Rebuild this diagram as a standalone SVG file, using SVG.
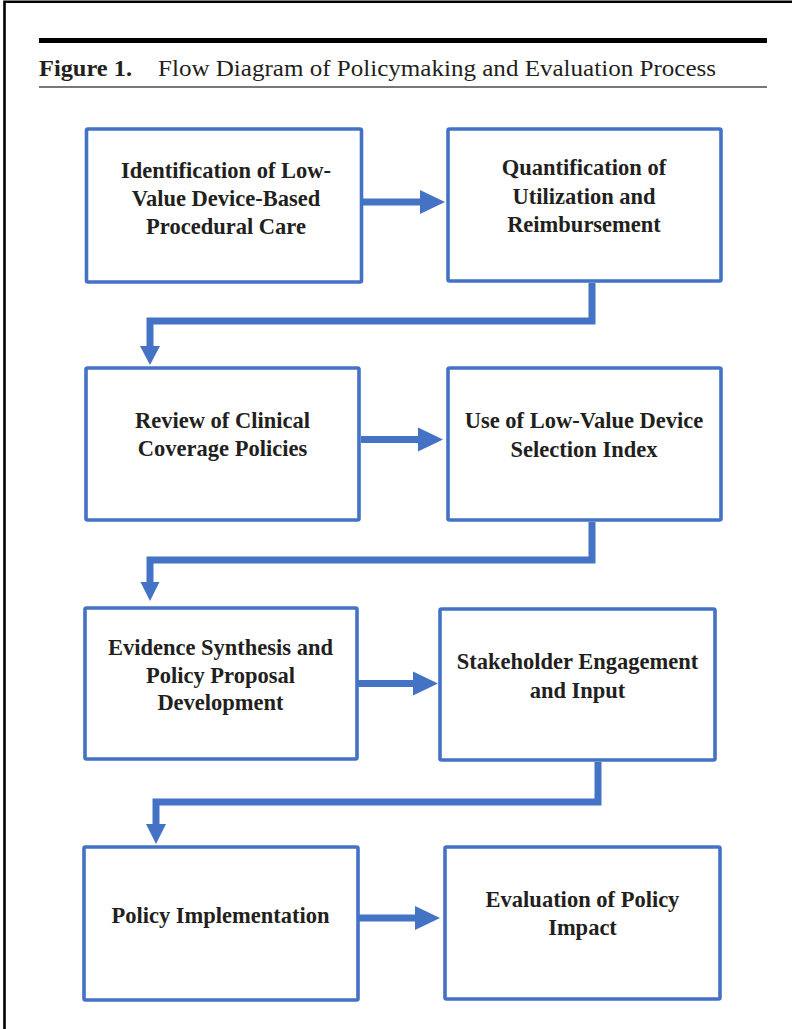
<svg xmlns="http://www.w3.org/2000/svg" width="792" height="1029" viewBox="0 0 792 1029">
<style>
.box{fill:#ffffff;stroke:#4472C4;stroke-width:3.6}
.lbl{font-family:"Liberation Serif","Times New Roman",serif;font-weight:bold;font-size:22.5px;fill:#231f20;text-anchor:middle}
.conn{fill:none;stroke:#4472C4;stroke-width:7;stroke-linejoin:miter}
.head{fill:#4472C4;stroke:none}
.ttl{font-family:"Liberation Serif","Times New Roman",serif;font-size:24px;fill:#231f20}
</style>
<rect x="0" y="0" width="792" height="1029" fill="#ffffff"/>
<path d="M4.5,1029 V1.8 H792" fill="none" stroke="#000000" stroke-width="2.6"/>
<rect x="39" y="38" width="728" height="5" fill="#000000"/>
<rect x="39" y="86.4" width="728" height="1.2" fill="#231f20"/>
<text class="ttl" x="39" y="75.5" font-weight="bold" textLength="93" lengthAdjust="spacingAndGlyphs">Figure 1.</text>
<text class="ttl" x="158" y="75.5" textLength="558" lengthAdjust="spacingAndGlyphs">Flow Diagram of Policymaking and Evaluation Process</text>

<g id="connectors">
<path class="conn" d="M362,202 H421"/>
<polygon class="head" points="420,190 420,214 445,202"/>
<path class="conn" d="M592,283 V321 H150 V347"/>
<polygon class="head" points="140,346 160,346 150,365"/>
<path class="conn" d="M361,439.5 H419"/>
<polygon class="head" points="418,427.5 418,451.5 443,439.5"/>
<path class="conn" d="M592,522 V560 H150 V583"/>
<polygon class="head" points="140.5,582 159.5,582 150,601"/>
<path class="conn" d="M358,683.5 H414"/>
<polygon class="head" points="413,671.5 413,695.5 438,683.5"/>
<path class="conn" d="M598,762 V802 H156 V825"/>
<polygon class="head" points="146,824 166,824 156,844"/>
<path class="conn" d="M359,918 H416"/>
<polygon class="head" points="415,906 415,930 440,918"/>
</g>

<g id="node1">
<rect class="box" x="86.5" y="129" width="275" height="153" rx="1.5"/>
<text class="lbl" x="226" y="178">Identification of Low-</text>
<text class="lbl" x="226" y="206">Value Device-Based</text>
<text class="lbl" x="226" y="234">Procedural Care</text>
</g>
<g id="node2">
<rect class="box" x="448" y="129" width="273" height="152" rx="1.5"/>
<text class="lbl" x="584" y="175">Quantification of</text>
<text class="lbl" x="584" y="203.5">Utilization and</text>
<text class="lbl" x="584" y="232">Reimbursement</text>
</g>
<g id="node3">
<rect class="box" x="86" y="368" width="273" height="152" rx="1.5"/>
<text class="lbl" x="222.5" y="428">Review of Clinical</text>
<text class="lbl" x="222.5" y="456">Coverage Policies</text>
</g>
<g id="node4">
<rect class="box" x="448" y="368" width="273" height="152" rx="1.5"/>
<text class="lbl" x="584" y="428">Use of Low-Value Device</text>
<text class="lbl" x="584" y="457">Selection Index</text>
</g>
<g id="node5">
<rect class="box" x="85" y="608" width="272" height="151" rx="1.5"/>
<text class="lbl" x="220.5" y="655">Evidence Synthesis and</text>
<text class="lbl" x="220.5" y="683">Policy Proposal</text>
<text class="lbl" x="220.5" y="710">Development</text>
</g>
<g id="node6">
<rect class="box" x="440" y="609" width="275" height="151" rx="1.5"/>
<text class="lbl" x="577.5" y="669">Stakeholder Engagement</text>
<text class="lbl" x="577.5" y="698">and Input</text>
</g>
<g id="node7">
<rect class="box" x="84" y="847" width="274" height="153" rx="1.5"/>
<text class="lbl" x="220.5" y="923">Policy Implementation</text>
</g>
<g id="node8">
<rect class="box" x="445" y="847" width="275" height="152" rx="1.5"/>
<text class="lbl" x="582.5" y="907">Evaluation of Policy</text>
<text class="lbl" x="582.5" y="935">Impact</text>
</g>
</svg>
